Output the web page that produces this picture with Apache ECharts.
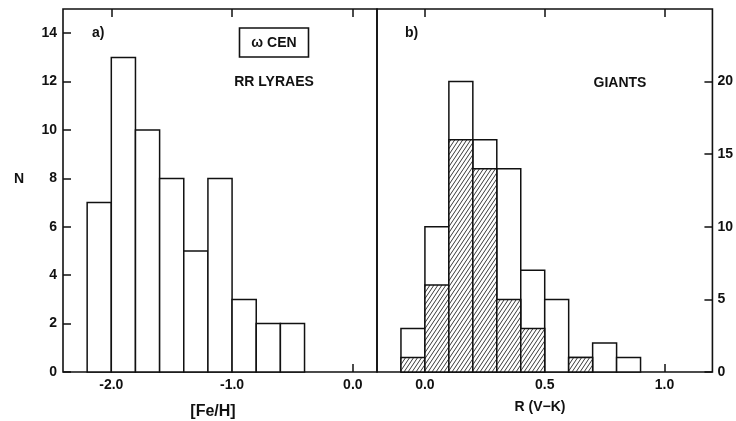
<!DOCTYPE html>
<html>
<head>
<meta charset="utf-8">
<script src="https://cdn.jsdelivr.net/npm/echarts@6/dist/echarts.min.js"></script>
<style>html,body{margin:0;padding:0;background:#fff}#c{width:736px;height:421px}</style>
</head>
<body>
<div id="c"></div>
<script>
// ---- Data ----
const feBinStart = [-2.2, -2.0, -1.8, -1.6, -1.4, -1.2, -1.0, -0.8, -0.6];
const feCounts   = [7, 13, 10, 8, 5, 8, 3, 2, 2];
const feBinWidth = 0.2;

const rvkBinStart   = [-0.1, 0.0, 0.1, 0.2, 0.3, 0.4, 0.5, 0.6, 0.7, 0.8];
const rvkAllCounts  = [3, 10, 20, 16, 14, 7, 5, 1, 2, 1];
const rvkHatchCounts= [1, 6, 16, 14, 5, 3, 0, 1, 0, 0];
const rvkBinWidth = 0.1;

const feTicks  = [-2.0, -1.0, 0.0];
const rvkTicks = [0.0, 0.5, 1.0];
const nLeftTicks  = [0, 2, 4, 6, 8, 10, 12, 14];
const nRightTicks = [0, 5, 10, 15, 20];

// ---- hatch pattern ----
const pc = document.createElement('canvas');
pc.width = 4; pc.height = 6;
const g = pc.getContext('2d');
g.fillStyle = '#fff'; g.fillRect(0,0,4,6);
g.strokeStyle = '#222'; g.lineWidth = 0.9;
[[-4,0],[0,0],[4,0]].forEach(([ox])=>{ g.beginPath(); g.moveTo(ox,6); g.lineTo(ox+4,0); g.stroke(); });
const hatch = {image: pc, repeat: 'repeat'};

const FONT = 'Liberation Sans';
const INK = '#111';

function toData(starts, counts, w){ return starts.map((s,i)=>[s, s+w, counts[i]]); }
function rectRender(fill){
  return function(params, api){
    const x0 = api.value(0), x1 = api.value(1), y = api.value(2);
    if (y <= 0) return null;
    const p0 = api.coord([x0, y]);
    const p1 = api.coord([x1, 0]);
    return {type:'rect', shape:{x:p0[0], y:p0[1], width:p1[0]-p0[0], height:p1[1]-p0[1]},
      style:{fill: fill, stroke: INK, lineWidth: 1.5}};
  };
}

const labelStyle = {color: INK, fontFamily: FONT, fontWeight: 'bold', fontSize: 14};

function xAxisBottom(grid, min, max, ticks, margin){
  return {type:'value', gridIndex: grid, min, max, position:'bottom',
    axisLine:{show:false, onZero:false}, splitLine:{show:false},
    axisTick:{show:true, inside:true, length:8, customValues: ticks, lineStyle:{color:INK,width:1.5}},
    axisLabel:Object.assign({show:true, margin: margin, customValues: ticks, formatter: v=>Number(v).toFixed(1)}, labelStyle)};
}
function xAxisTop(grid, min, max, ticks){
  return {type:'value', gridIndex: grid, min, max, position:'top',
    axisLine:{show:false, onZero:false}, splitLine:{show:false},
    axisTick:{show:true, inside:true, length:8, customValues: ticks, lineStyle:{color:INK,width:1.5}},
    axisLabel:{show:false}};
}

const option = {
  backgroundColor: '#fff',
  animation: false,
  grid: [
    {left: 63, top: 9, width: 314, height: 363, show: true, borderColor: INK, borderWidth: 1.6, backgroundColor: 'transparent'},
    {left: 377, top: 9, width: 336, height: 363, show: true, borderColor: INK, borderWidth: 1.6, backgroundColor: 'transparent'}
  ],
  xAxis: [
    xAxisBottom(0, -2.4, 0.2, feTicks, 6),
    xAxisTop(0, -2.4, 0.2, feTicks),
    xAxisBottom(1, -0.2, 1.2, rvkTicks, 6),
    xAxisTop(1, -0.2, 1.2, rvkTicks)
  ],
  yAxis: [
    {type:'value', gridIndex:0, min:0, max:15, position:'left',
      axisLine:{show:false, onZero:false}, splitLine:{show:false},
      axisTick:{show:true, inside:true, length:8, customValues:nLeftTicks, lineStyle:{color:INK,width:1.5}},
      axisLabel:Object.assign({show:true, margin:6, customValues:nLeftTicks}, labelStyle)},
    {type:'value', gridIndex:1, min:0, max:25, position:'right',
      axisLine:{show:false, onZero:false}, splitLine:{show:false},
      axisTick:{show:true, inside:true, length:8, customValues:nRightTicks, lineStyle:{color:INK,width:1.5}},
      axisLabel:Object.assign({show:true, margin:5, customValues:nRightTicks}, labelStyle)}
  ],
  series: [
    {type:'custom', xAxisIndex:0, yAxisIndex:0, z:2, renderItem: rectRender('#fff'),
      data: toData(feBinStart, feCounts, feBinWidth)},
    {type:'custom', xAxisIndex:2, yAxisIndex:1, z:2, renderItem: rectRender('#fff'),
      data: toData(rvkBinStart, rvkAllCounts, rvkBinWidth)},
    {type:'custom', xAxisIndex:2, yAxisIndex:1, z:3, renderItem: rectRender(hatch),
      data: toData(rvkBinStart, rvkHatchCounts, rvkBinWidth)}
  ],
  graphic: [
    {type:'text', left: 14, top: 172, style:{text:'N', fill:INK, font:'bold 14px "Liberation Sans"'}},
    {type:'text', x: 92, y: 26, style:{text:'a)', fill:INK, font:'bold 14px "Liberation Sans"'}},
    {type:'text', x: 405, y: 26, style:{text:'b)', fill:INK, font:'bold 14px "Liberation Sans"'}},
    {type:'rect', shape:{x:239.5, y:28, width:69, height:29}, style:{fill:'#fff', stroke:INK, lineWidth:1.6}, z:10},
    {type:'text', x: 274, y: 43, z:11, style:{text:'ω CEN', fill:INK, font:'bold 14px "Liberation Sans"', textAlign:'center', textVerticalAlign:'middle'}},
    {type:'text', x: 274, y: 82, style:{text:'RR LYRAES', fill:INK, font:'bold 14px "Liberation Sans"', textAlign:'center', textVerticalAlign:'middle'}},
    {type:'text', x: 620, y: 83, style:{text:'GIANTS', fill:INK, font:'bold 14px "Liberation Sans"', textAlign:'center', textVerticalAlign:'middle'}},
    {type:'text', x: 213, y: 412, style:{text:'[Fe/H]', fill:INK, font:'bold 16px "Liberation Sans"', textAlign:'center', textVerticalAlign:'middle'}},
    {type:'text', x: 540, y: 407, style:{text:'R (V−K)', fill:INK, font:'bold 14px "Liberation Sans"', textAlign:'center', textVerticalAlign:'middle'}}
  ]
};

const chart = echarts.init(document.getElementById('c'), null, {renderer:'canvas'});
chart.setOption(option);
</script>
</body>
</html>
